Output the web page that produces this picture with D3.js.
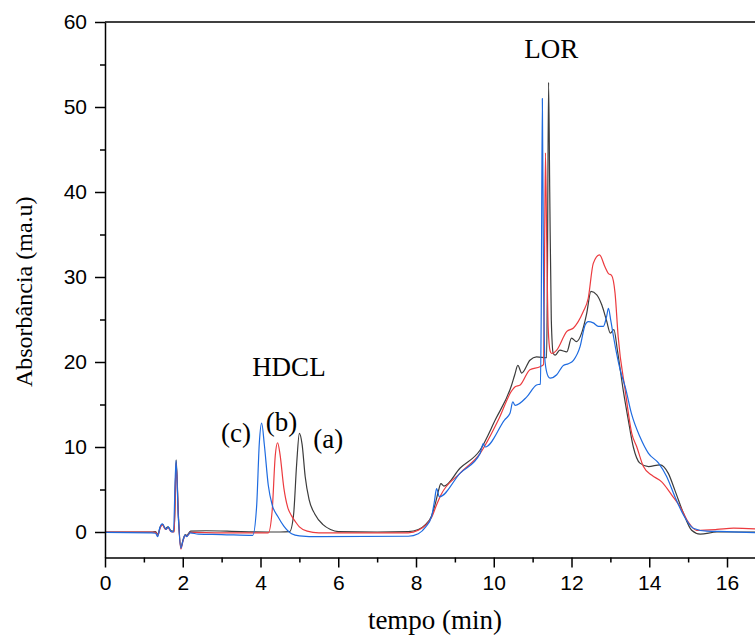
<!DOCTYPE html>
<html>
<head>
<meta charset="utf-8">
<script src="https://cdn.jsdelivr.net/npm/d3@7"></script>
<style>
  body { margin: 0; background: #fff; }
  .axis path, .axis line { stroke: #000; stroke-width: 1.5px; }
  .axis text { font-family: "Liberation Sans", Arial, sans-serif; font-size: 21px; fill: #000; }
  .ann { font-family: "Liberation Serif", "Times New Roman", serif; fill: #000; }
  .trace { fill: none; stroke-width: 1.2px; }
</style>
</head>
<body>
<svg width="755" height="640"></svg>
<script>
// chromatogram traces, [tempo (min), absorbância (ma.u)]
const traceA = [[0,0],[1.2,0],[1.3,0.05],[1.36,-0.3],[1.42,0.6],[1.48,0.9],[1.55,0.4],[1.62,0.6],[1.7,0.15],[1.78,0.1],[1.83,8.5],[1.89,1.8],[1.95,-1.8],[2.01,-0.9],[2.06,-0.3],[2.1,-0.4],[2.2,0.1],[2.6,0.15],[3.5,0.05],[4.5,0.0],[4.75,0.05],[4.85,2],[4.93,8],[5.0,11.6],[5.07,10.3],[5.15,6.5],[5.25,3.8],[5.4,2.1],[5.6,0.9],[5.8,0.3],[6.0,0.05],[7.0,0],[7.8,0.05],[8.06,0.3],[8.25,0.9],[8.4,1.9],[8.5,3.4],[8.58,4.9],[8.64,5.7],[8.72,5.4],[9.13,7.5],[9.65,9.65],[10.04,13.2],[10.46,17.3],[10.54,18.5],[10.62,19.6],[10.72,18.7],[10.93,20.2],[11.1,20.6],[11.36,20.5],[11.38,30],[11.41,52.9],[11.44,40],[11.48,25],[11.53,21.0],[11.58,20.8],[11.7,21.4],[11.88,21.2],[12.0,22.8],[12.13,22.4],[12.26,23.4],[12.39,25.7],[12.5,28.3],[12.65,27.9],[12.78,26.7],[12.9,24.9],[13.0,23.4],[13.09,23.8],[13.18,21.4],[13.33,16.7],[13.46,13.2],[13.59,10.0],[13.76,8.1],[13.98,7.7],[14.28,7.9],[14.49,6.9],[14.66,4.9],[14.88,2.2],[15.09,0.2],[15.31,-0.25],[15.74,0],[16.8,0]];

const traceB = [[0,0],[1.2,0],[1.3,-0.05],[1.36,-0.4],[1.42,0.5],[1.48,0.85],[1.55,0.3],[1.62,0.5],[1.7,0.05],[1.78,0],[1.83,8.1],[1.89,1.5],[1.95,-2.0],[2.01,-1.0],[2.06,-0.4],[2.1,-0.5],[2.2,-0.05],[3,-0.1],[4.2,-0.1],[4.3,2.5],[4.38,9],[4.44,10.5],[4.5,9.2],[4.6,5.2],[4.7,2.9],[4.8,1.9],[4.9,1.2],[5.0,0.6],[5.2,0.1],[5.5,-0.1],[7.8,-0.1],[8.06,0.2],[8.25,0.8],[8.4,1.7],[8.53,3.2],[8.64,4.35],[9.13,6.9],[9.65,9.25],[10.12,13.2],[10.46,16.6],[10.55,17.1],[10.68,17.3],[10.93,19.1],[11.19,19.45],[11.28,19.7],[11.3,28],[11.33,44.6],[11.36,35],[11.4,24],[11.45,21.3],[11.49,21.0],[11.62,21.4],[11.88,23.6],[12.05,24.0],[12.3,25.9],[12.43,27.5],[12.56,31.6],[12.72,32.6],[12.86,31.2],[12.95,30.4],[13.03,30.2],[13.12,28.1],[13.2,23.0],[13.38,16.7],[13.55,11.6],[13.68,10.0],[13.85,7.7],[14.06,6.7],[14.32,5.9],[14.58,4.35],[14.79,3.0],[15.0,1.2],[15.22,0.2],[15.74,0.3],[16.17,0.45],[16.8,0.35]];

const traceC = [[0,-0.05],[1.2,-0.1],[1.3,-0.15],[1.355,-0.55],[1.41,0.5],[1.475,0.95],[1.57,0.3],[1.63,0.6],[1.69,0.1],[1.76,0],[1.826,8.4],[1.886,1.8],[1.95,-1.9],[2.01,-0.95],[2.06,-0.35],[2.1,-0.55],[2.19,-0.1],[2.4,-0.25],[3.0,-0.3],[3.8,-0.4],[3.9,3],[3.97,10.5],[4.03,12.8],[4.1,10.2],[4.2,5.5],[4.3,3.2],[4.45,1.8],[4.6,0.7],[4.8,-0.2],[5.0,-0.45],[5.5,-0.55],[7.8,-0.5],[8.06,-0.2],[8.25,0.6],[8.4,1.8],[8.47,3.5],[8.53,5.1],[8.6,4.15],[9.13,6.9],[9.65,9.25],[9.73,10.4],[9.78,10.0],[10.28,13.2],[10.42,14.0],[10.49,15.3],[10.55,14.9],[10.85,15.9],[11.1,17.3],[11.2,17.4],[11.22,25],[11.25,51],[11.28,30],[11.32,20],[11.4,18.3],[11.45,18.1],[11.62,18.5],[11.79,19.6],[11.92,19.8],[12.05,20.2],[12.22,21.8],[12.35,24.35],[12.43,24.75],[12.56,24.6],[12.69,24.2],[12.82,24.2],[12.9,25.3],[12.95,26.3],[13.01,24.9],[13.08,23.0],[13.16,21.0],[13.25,19.1],[13.38,17.1],[13.55,13.8],[13.76,11.2],[13.98,9.25],[14.24,8.1],[14.45,6.5],[14.66,4.15],[14.88,2.0],[15.13,0.45],[15.48,0.1],[16.0,0.05],[16.8,-0.1]];

const traceColors = ["#3c3c3c", "#ec3b3f", "#1e6be0"];

const xMajor = [0, 2, 4, 6, 8, 10, 12, 14, 16];
const xMinor = [1, 3, 5, 7, 9, 11, 13, 15];
const yMajor = [0, 10, 20, 30, 40, 50, 60];
const yMinor = [5, 15, 25, 35, 45, 55];

// annotations: text, x (min), y (ma.u) of baseline
const annText = ["LOR", "HDCL", "(c)", "(b)", "(a)"];
const annX = [11.48, 4.73, 3.37, 4.54, 5.74];
const annY = [55.8, 18.3, 10.55, 11.9, 9.9];

const svg = d3.select("svg");
const margin = {top: 22, left: 105, bottom: 82.5};
const width = 755, height = 640;

const x = d3.scaleLinear().domain([0, 16.72]).range([margin.left, width]);
const y = d3.scaleLinear().domain([-3, 60]).range([height - margin.bottom, margin.top]);

svg.append("defs").append("clipPath").attr("id", "plot")
  .append("rect")
  .attr("x", x(0)).attr("y", y(60))
  .attr("width", x.range()[1] - x(0)).attr("height", y(-3) - y(60));

// traces
const line = d3.line()
  .x(d => x(d[0]))
  .y(d => y(d[1]))
  .curve(d3.curveMonotoneX);

const plot = svg.append("g").attr("clip-path", "url(#plot)");
[traceA, traceB, traceC].forEach((t, i) => {
  plot.append("path")
    .attr("class", "trace")
    .attr("d", line(t))
    .attr("stroke", traceColors[i]);
});

// x axis
svg.append("g").attr("class", "axis")
  .attr("transform", `translate(0, ${y(-3)})`)
  .call(d3.axisBottom(x).tickValues(xMajor).tickSize(10).tickSizeOuter(0).tickPadding(8))
  .call(g => g.selectAll("text").attr("dy", "0.71em"));
svg.append("g").attr("class", "axis")
  .attr("transform", `translate(0, ${y(-3)})`)
  .call(d3.axisBottom(x).tickValues(xMinor).tickSize(5).tickFormat(""))
  .call(g => g.select(".domain").remove());

// y axis
svg.append("g").attr("class", "axis")
  .attr("transform", `translate(${x(0)}, 0)`)
  .call(d3.axisLeft(y).tickValues(yMajor).tickSize(10).tickSizeOuter(0).tickPadding(8));
svg.append("g").attr("class", "axis")
  .attr("transform", `translate(${x(0)}, 0)`)
  .call(d3.axisLeft(y).tickValues(yMinor).tickSize(5).tickFormat(""))
  .call(g => g.select(".domain").remove());

// top frame line
svg.append("line")
  .attr("x1", x(0)).attr("x2", width)
  .attr("y1", y(60)).attr("y2", y(60))
  .attr("stroke", "#000").attr("stroke-width", 1.5);

// axis titles
svg.append("text").attr("class", "ann")
  .attr("x", 435).attr("y", 629)
  .attr("text-anchor", "middle")
  .style("font-size", "27px")
  .text("tempo (min)");

svg.append("text").attr("class", "ann")
  .attr("transform", `translate(32, ${(y(60) + y(-3)) / 2 + 2}) rotate(-90)`)
  .attr("text-anchor", "middle")
  .style("font-size", "24px")
  .text("Absorbância (ma.u)");

// peak labels
svg.selectAll("text.peak")
  .data(annText)
  .enter()
  .append("text")
  .attr("class", "ann peak")
  .attr("x", (d, i) => x(annX[i]))
  .attr("y", (d, i) => y(annY[i]))
  .attr("text-anchor", "middle")
  .style("font-size", "27px")
  .text(d => d);
</script>
</body>
</html>
